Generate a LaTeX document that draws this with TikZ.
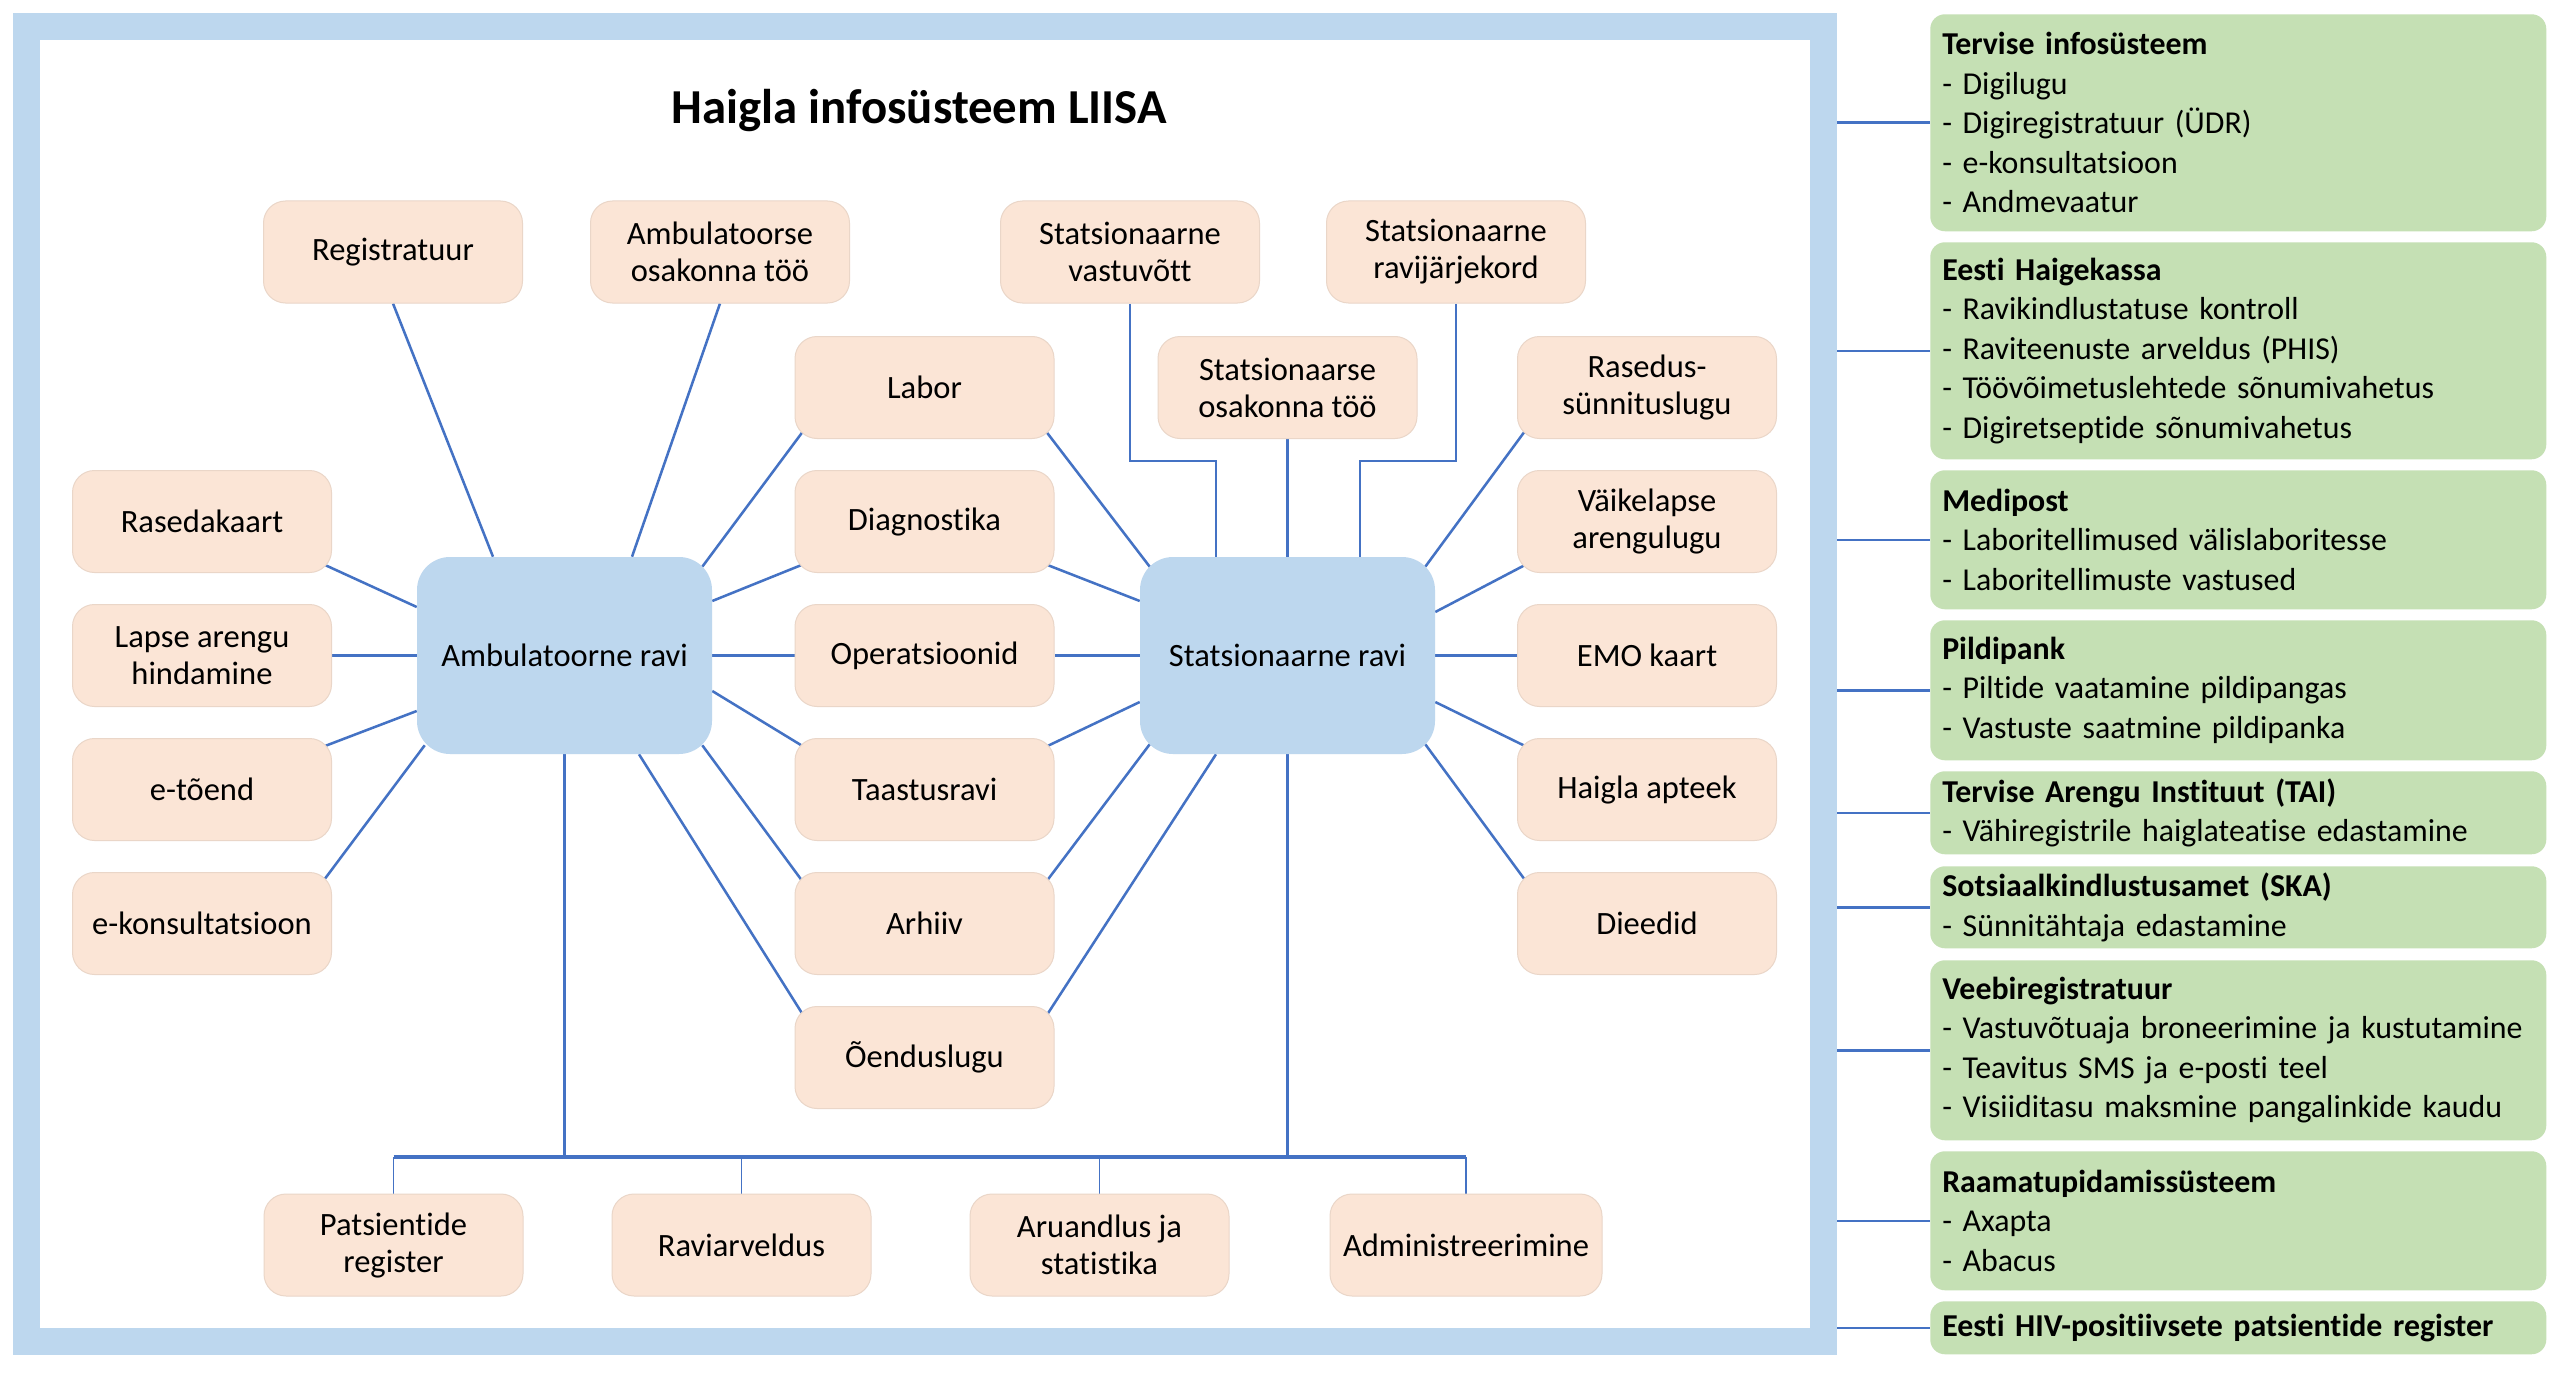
\documentclass[tikz,border=0pt]{standalone}
\usepackage{fontspec}
\setmainfont{Carlito}[Ligatures=NoCommon]
\usetikzlibrary{calc,backgrounds}
\definecolor{peach}{HTML}{FBE5D6}
\definecolor{peachedge}{HTML}{EAD6C8}
\definecolor{bluebox}{HTML}{BDD7EE}
\definecolor{greenbox}{HTML}{C5E0B4}
\definecolor{linkblue}{HTML}{4472C4}
\begin{document}
\begin{tikzpicture}[x=0.75pt,y=-0.75pt,
 pbox/.style={fill=peach, draw=peachedge, line width=0.75pt, rounded corners=16.5pt, minimum width=194.25pt, minimum height=76.5pt, inner sep=0pt, align=center, font=\fontsize{24.4}{27.75}\selectfont},
 hub/.style={fill=bluebox, rounded corners=24.75pt, minimum width=221.25pt, minimum height=147.75pt, inner sep=0pt, align=center, font=\fontsize{24.4}{29}\selectfont},
 gbox/.style={fill=greenbox, rounded corners=11pt, anchor=north west, text width=444pt, inner xsep=9pt, inner ysep=0pt, align=left, font=\fontsize{23.9}{29.6}\selectfont},
 link/.style={draw=linkblue, line width=1.9pt},
 drop/.style={draw=linkblue, line width=1.4pt},
 busline/.style={draw=linkblue, line width=2.8pt},
]
\useasboundingbox (0,0) rectangle (2560,1377);
% frame
\node[draw=bluebox, line width=20.25pt, outer sep=10.125pt, minimum width=1347.75pt, minimum height=986.25pt, inner sep=0pt] (frame) at (925,684) {};
\node[font=\bfseries\fontsize{36.6}{40}\selectfont] (title) at (919,111) {Haigla infosüsteem LIISA};
% hubs
\node[hub] (amb) at (564.5,655.5) {Ambulatoorne ravi};
\node[hub] (stat) at (1287.5,655.5) {Statsionaarne ravi};
% top row
\node[pbox] (reg) at (393,252) {Registratuur};
\node[pbox] (ambo) at (720,252) {Ambulatoorse\\osakonna töö};
\node[pbox] (svast) at (1130,252) {Statsionaarne\\vastuvõtt};
\node[pbox] (sjark) at (1456,252) {Statsionaarne\\ravijärjekord};
% rows
\node[pbox] (labor) at (924.5,387.5) {Labor};
\node[pbox] (sosak) at (1287.5,387.5) {Statsionaarse\\osakonna töö};
\node[pbox] (rased) at (1647,387.5) {Rasedus-\\sünnituslugu};
\node[pbox] (rk) at (202,521.5) {Rasedakaart};
\node[pbox] (diag) at (924.5,521.5) {Diagnostika};
\node[pbox] (vaike) at (1647,521.5) {Väikelapse\\arengulugu};
\node[pbox] (lapse) at (202,655.5) {Lapse arengu\\hindamine};
\node[pbox] (oper) at (924.5,655.5) {Operatsioonid};
\node[pbox] (emo) at (1647,655.5) {EMO kaart};
\node[pbox] (etoend) at (202,789.5) {e-tõend};
\node[pbox] (taas) at (924.5,789.5) {Taastusravi};
\node[pbox] (apteek) at (1647,789.5) {Haigla apteek};
\node[pbox] (ekons) at (202,923.5) {e-konsultatsioon};
\node[pbox] (arh) at (924.5,923.5) {Arhiiv};
\node[pbox] (diet) at (1647,923.5) {Dieedid};
\node[pbox] (oend) at (924.5,1057.5) {Õenduslugu};
% bottom row
\node[pbox] (pat) at (393.5,1245) {Patsientide\\register};
\node[pbox] (ravi) at (741.5,1245) {Raviarveldus};
\node[pbox] (aru) at (1099.5,1245) {Aruandlus ja\\statistika};
\node[pbox, minimum width=204pt] (adm) at (1466,1245) {Administreerimine};
% green boxes
\node[gbox, minimum height=162.75pt] (g1) at (1930,14) {\textbf{Tervise infosüsteem}\\- Digilugu\\- Digiregistratuur (ÜDR)\\- e-konsultatsioon\\- Andmevaatur};
\node[gbox, minimum height=162.75pt] (g2) at (1930,242) {\textbf{Eesti Haigekassa}\\- Ravikindlustatuse kontroll\\- Raviteenuste arveldus (PHIS)\\- Töövõimetuslehtede sõnumivahetus\\- Digiretseptide sõnumivahetus};
\node[gbox, minimum height=104.25pt] (g3) at (1930,470) {\textbf{Medipost}\\- Laboritellimused välislaboritesse\\- Laboritellimuste vastused};
\node[gbox, minimum height=105pt] (g4) at (1930,620) {\textbf{Pildipank}\\- Piltide vaatamine pildipangas\\- Vastuste saatmine pildipanka};
\node[gbox, minimum height=62.25pt] (g5) at (1930,771) {\textbf{Tervise Arengu Instituut (TAI)}\\- Vähiregistrile haiglateatise edastamine};
\node[gbox, minimum height=61.5pt] (g6) at (1930,866) {\textbf{Sotsiaalkindlustusamet (SKA)}\\- Sünnitähtaja edastamine};
\node[gbox, minimum height=135pt] (g7) at (1930,960) {\textbf{Veebiregistratuur}\\\mbox{- Vastuvõtuaja broneerimine ja kustutamine}\\- Teavitus SMS ja e-posti teel\\- Visiiditasu maksmine pangalinkide kaudu};
\node[gbox, minimum height=104.25pt] (g8) at (1930,1151) {\textbf{Raamatupidamissüsteem}\\- Axapta\\- Abacus};
\node[gbox, minimum height=39.75pt] (g9) at (1930,1301) {\textbf{Eesti HIV-positiivsete patsientide register}};
\begin{pgfonlayer}{background}
\fill[white] (0,0) rectangle (2560,1377);
\coordinate (bus) at (0,1157);
% Ambulatoorne ravi
\draw[link] (reg.south) -- ([shift={(-71.5,0)}]amb.north);
\draw[link] (ambo.south) -- ([shift={(67.5,0)}]amb.north);
\draw[link] ([shift={(8,-7)}]labor.south west) -- ([shift={(-10,10)}]amb.north east);
\draw[link] ([shift={(7,-8)}]diag.south west) -- ([shift={(0,-54.5)}]amb.east);
\draw[link] (oper.west) -- (amb.east);
\draw[link] ([shift={(8,8)}]taas.north west) -- ([shift={(0,35.5)}]amb.east);
\draw[link] ([shift={(7,8)}]arh.north west) -- ([shift={(-10,-9)}]amb.south east);
\draw[link] ([shift={(8,8)}]oend.north west) -- ([shift={(74.5,0)}]amb.south);
\draw[link] ([shift={(-7,-8)}]rk.south east) -- ([shift={(0,-48.5)}]amb.west);
\draw[link] (lapse.east) -- (amb.west);
\draw[link] ([shift={(-7,8)}]etoend.north east) -- ([shift={(0,55.5)}]amb.west);
\draw[link] ([shift={(-8,8)}]ekons.north east) -- ([shift={(8,-9)}]amb.south west);
% Statsionaarne ravi
\draw[link] (svast.south) -- ++(0,157.5) -| ([shift={(-71.5,0)}]stat.north);
\draw[link] (sosak.south) -- (stat.north);
\draw[link] (sjark.south) -- ++(0,157.5) -| ([shift={(72.5,0)}]stat.north);
\draw[link] ([shift={(-8,-7)}]labor.south east) -- ([shift={(10,10)}]stat.north west);
\draw[link] ([shift={(-7,-8)}]diag.south east) -- ([shift={(0,-54.5)}]stat.west);
\draw[link] (oper.east) -- (stat.west);
\draw[link] ([shift={(-7,8)}]taas.north east) -- ([shift={(0,46.5)}]stat.west);
\draw[link] ([shift={(-7,8)}]arh.north east) -- ([shift={(10,-10)}]stat.south west);
\draw[link] ([shift={(-7,8)}]oend.north east) -- ([shift={(-71.5,0)}]stat.south);
\draw[link] ([shift={(8,-8)}]rased.south west) -- ([shift={(-10,10)}]stat.north east);
\draw[link] ([shift={(8,-8)}]vaike.south west) -- ([shift={(0,-43.5)}]stat.east);
\draw[link] (emo.west) -- (stat.east);
\draw[link] ([shift={(8,8)}]apteek.north west) -- ([shift={(0,46.5)}]stat.east);
\draw[link] ([shift={(8,8)}]diet.north west) -- ([shift={(-10,-10)}]stat.south east);
% bottom bus
\draw[link] (amb.south) -- (amb.south |- bus);
\draw[link] (stat.south) -- (stat.south |- bus);
\draw[busline] (pat.north |- bus) -- (adm.north |- bus);
\draw[drop] (pat.north |- bus) -- (pat.north);
\draw[drop] (ravi.north |- bus) -- (ravi.north);
\draw[drop] (aru.north |- bus) -- (aru.north);
\draw[drop] (adm.north |- bus) -- (adm.north);
% external systems
\draw[link] (frame.east |- g1.west) -- (g1.west);
\draw[link] (frame.east |- g2.west) -- (g2.west);
\draw[link] (frame.east |- g3.west) -- (g3.west);
\draw[link] (frame.east |- g4.west) -- (g4.west);
\draw[link] (frame.east |- g5.west) -- (g5.west);
\draw[link] (frame.east |- g6.west) -- (g6.west);
\draw[link] (frame.east |- g7.west) -- (g7.west);
\draw[link] (frame.east |- g8.west) -- (g8.west);
\draw[link] (frame.east |- g9.west) -- (g9.west);
\end{pgfonlayer}
\end{tikzpicture}
\end{document}
